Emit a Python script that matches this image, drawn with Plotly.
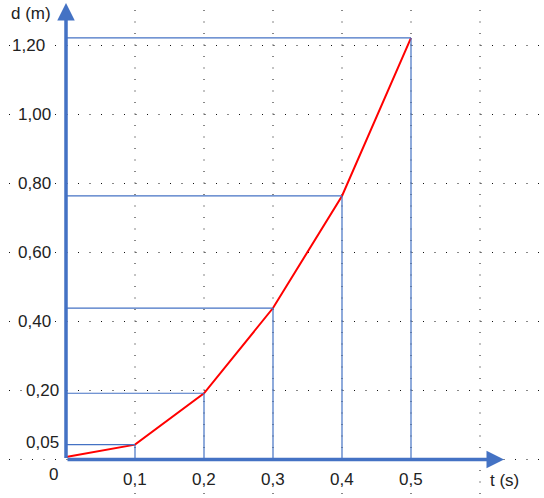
import plotly.graph_objects as go

# data
t_vals = [0.0, 0.1, 0.2, 0.3, 0.4, 0.5]
d_vals = [0.007, 0.043, 0.192, 0.439, 0.764, 1.222]
x_tick_vals = [0.1, 0.2, 0.3, 0.4, 0.5]
x_tick_text = ["0,1", "0,2", "0,3", "0,4", "0,5"]
y_tick_vals = [0.05, 0.20, 0.40, 0.60, 0.80, 1.00, 1.20]
y_tick_text = ["0,05", "0,20", "0,40", "0,60", "0,80", "1,00", "1,20"]
grid_x = [0.1, 0.2, 0.3, 0.4, 0.5, 0.6]
grid_y = [0.0, 0.2, 0.4, 0.6, 0.8, 1.0, 1.2]

W, H = 544, 498
X0PX, XSC = 66.0, 690.0
Y0PX, YSC = 459.5, 345.0
xr = [(0 - X0PX) / XSC, (W - X0PX) / XSC]
yr = [(Y0PX - H) / YSC, Y0PX / YSC]

def px2x(p):
    return (p - X0PX) / XSC

def px2y(p):
    return (Y0PX - p) / YSC

BLUE = "#4472C4"
TXT = "#222222"
FONT = "Liberation Sans, Arial, sans-serif"
FS = 17

fig = go.Figure()
shapes = []
# dotted grid
for gx in grid_x:
    shapes.append(dict(type="line", xref="x", yref="y", x0=gx, x1=gx,
                       y0=px2y(10), y1=px2y(498),
                       line=dict(color="#111111", width=1, dash="1px,10.5px"), layer="below"))
for gy in grid_y:
    shapes.append(dict(type="line", xref="x", yref="y", x0=px2x(9), x1=px2x(541),
                       y0=gy, y1=gy,
                       line=dict(color="#111111", width=1, dash="1px,10.5px"), layer="below"))
# reference lines
for tv, dv in zip(t_vals[1:], d_vals[1:]):
    shapes.append(dict(type="line", xref="x", yref="y", x0=0, x1=tv, y0=dv, y1=dv,
                       line=dict(color=BLUE, width=1.2)))
    shapes.append(dict(type="line", xref="x", yref="y", x0=tv, x1=tv, y0=0, y1=dv,
                       line=dict(color=BLUE, width=1.2)))

fig.add_trace(go.Scatter(x=t_vals, y=d_vals, mode="lines",
                         line=dict(color="#FF0000", width=2), showlegend=False,
                         hoverinfo="skip"))

annotations = []
# axes arrows
annotations.append(dict(x=px2x(504), y=0, ax=0, ay=0, xref="x", yref="y", axref="x", ayref="y",
                        showarrow=True, arrowhead=2, arrowsize=1, arrowwidth=3.5,
                        arrowcolor=BLUE, text=""))
annotations.append(dict(x=0, y=px2y(3), ax=0, ay=0, xref="x", yref="y", axref="x", ayref="y",
                        showarrow=True, arrowhead=2, arrowsize=1, arrowwidth=3.5,
                        arrowcolor=BLUE, text=""))

# x tick labels
for xv, xt in zip(x_tick_vals, x_tick_text):
    annotations.append(dict(x=xv, y=px2y(479), xref="x", yref="y", text=xt, showarrow=False,
                            font=dict(family=FONT, size=FS, color=TXT), bgcolor="white",
                            xanchor="center", yanchor="middle", borderpad=0))
# y tick labels
y_right_px = {0.05: 60, 0.20: 60, 0.40: 52, 0.60: 52, 0.80: 52, 1.00: 52, 1.20: 46}
for yv, yt in zip(y_tick_vals, y_tick_text):
    annotations.append(dict(x=px2x(y_right_px[yv]), y=yv, xref="x", yref="y", text=yt,
                            showarrow=False, font=dict(family=FONT, size=FS, color=TXT),
                            bgcolor="white", xanchor="right", yanchor="middle", borderpad=0))
annotations.append(dict(x=px2x(60), y=px2y(474), xref="x", yref="y", text="0", showarrow=False,
                        font=dict(family=FONT, size=FS, color=TXT), xanchor="right",
                        yanchor="middle"))
annotations.append(dict(x=px2x(488), y=px2y(480), xref="x", yref="y", text="t (s)",
                        showarrow=False, font=dict(family=FONT, size=FS, color=TXT),
                        xanchor="left", yanchor="middle"))
annotations.append(dict(x=px2x(9), y=px2y(13), xref="x", yref="y", text="d (m)",
                        showarrow=False, font=dict(family=FONT, size=FS, color=TXT),
                        xanchor="left", yanchor="middle"))

fig.update_layout(
    width=W, height=H, margin=dict(l=0, r=0, t=0, b=0),
    paper_bgcolor="white", plot_bgcolor="white",
    xaxis=dict(range=xr, visible=False, fixedrange=True),
    yaxis=dict(range=yr, visible=False, fixedrange=True),
    shapes=shapes, annotations=annotations, showlegend=False,
)
fig.write_html("out.html", config={"displayModeBar": False},
               post_script="document.body.style.margin='0';document.body.style.overflow='hidden';")
